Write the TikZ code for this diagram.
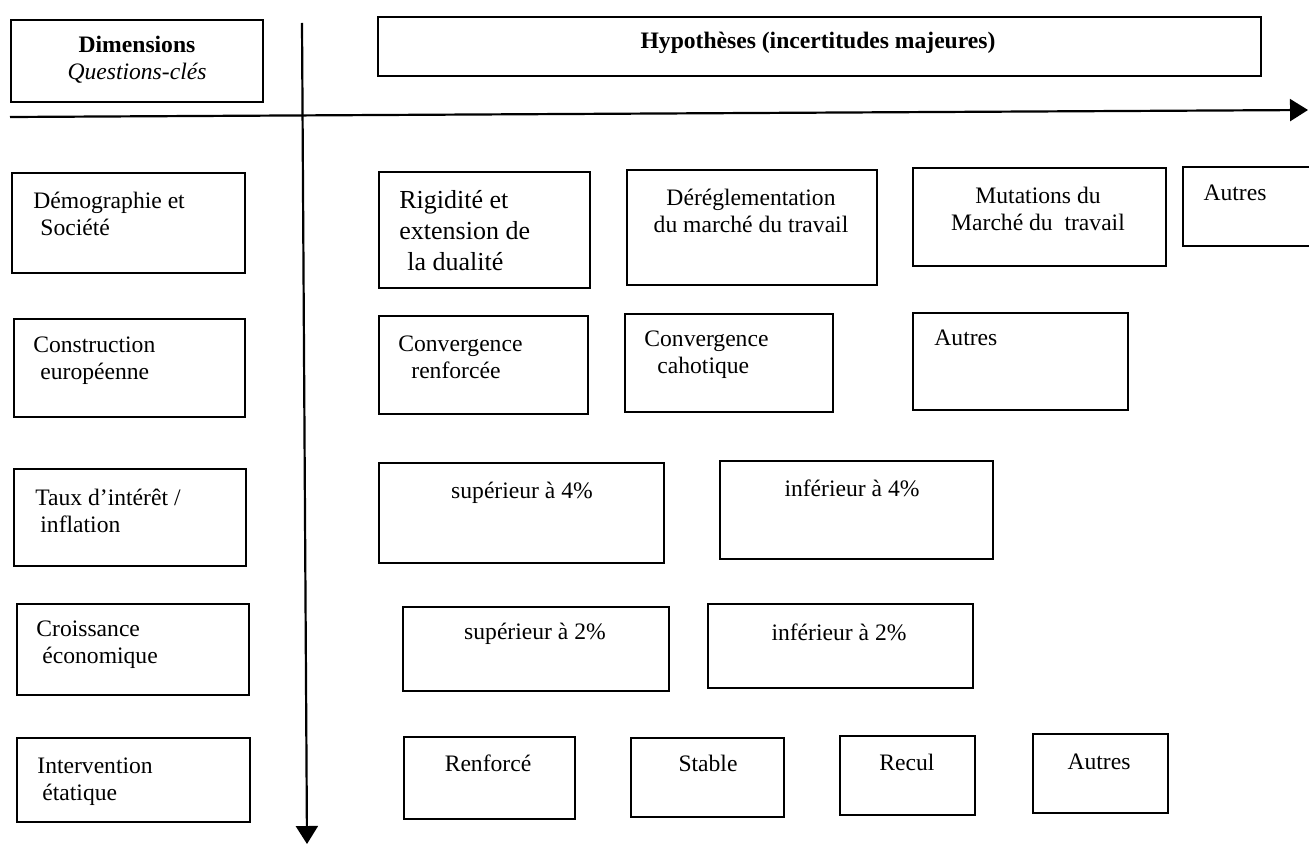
\documentclass[tikz,border=0pt]{standalone}
\usepackage{fontspec}
\setmainfont{Liberation Serif}
\usetikzlibrary{arrows.meta, fit}

\begin{document}
\begin{tikzpicture}[x = 0.5pt, y = -0.5pt,
		cell/.style = {draw, line width = 1.3pt, inner sep = 0pt},
		txt/.style = {font = \fontsize{11.8}{13.5}\selectfont, inner sep = 0pt, align = left},
		axis/.style = {line width = 1.1pt, -{Triangle[length = 9pt, width = 11pt]}}]
		\clip (0,0) rectangle (1309,845);
		
		% axes
		\coordinate (h0) at (10,117);
		\coordinate (h1) at (1308,110);
		\coordinate (v0) at (302,23);
		\coordinate (v1) at (307,844);
		\draw [axis] (h0) -- (h1);
		\draw [axis] (v0) -- (v1);
		
		% header
		\node [cell, fit = {(11,20) (263,102)}] (dim) {};
		\node [txt, align = center] (dim-t) at (137,60) {\textbf{Dimensions}\\\textit{Questions-clés}};
		\node [cell, fit = {(378,17) (1261,76)}] (hyp) {};
		\node [txt] (hyp-t) at (818,43) {\textbf{Hypothèses (incertitudes majeures)}};
		
		% demographie
		\node [cell, fit = {(12,173) (245,273)}] (demo) {};
		\node [txt, anchor = west] (demo-t) at (33,214) {Démographie et\\\hspace*{3.5pt}Société};
		\node [cell, fit = {(379,172) (590,288)}] (rig) {};
		\node [txt, anchor = west, font = \fontsize{13}{15.5}\selectfont] (rig-t) at (399,231) {Rigidité et\\extension de\\\hspace*{4pt}la dualité};
		\node [cell, fit = {(627,170) (877,285)}] (dereg) {};
		\node [txt, align = center] (dereg-t) at (751,211) {Déréglementation\\du marché du travail};
		\node [cell, fit = {(913,168) (1166,266)}] (mut) {};
		\node [txt, align = center] (mut-t) at (1038,209) {Mutations du\\Marché du\ \ travail};
		\node [cell, fit = {(1183,167) (1340,246)}] (aut1) {};
		\node [txt] (aut1-t) at (1235,193) {Autres};
		
		% construction europeenne
		\node [cell, fit = {(14,319) (245,417)}] (constr) {};
		\node [txt, anchor = west] (constr-t) at (33,361) {Construction\\\hspace*{3.5pt}européenne};
		\node [cell, fit = {(379,316) (588,414)}] (convr) {};
		\node [txt, anchor = west] (convr-t) at (398,357) {Convergence\\\hspace*{6.5pt}renforcée};
		\node [cell, fit = {(625,314) (833,412)}] (convc) {};
		\node [txt, anchor = west] (convc-t) at (644,355) {Convergence\\\hspace*{6.5pt}cahotique};
		\node [cell, fit = {(913,313) (1128,410)}] (aut2) {};
		\node [txt, anchor = west] (aut2-t) at (934,338) {Autres};
		
		% taux
		\node [cell, fit = {(14,469) (246,566)}] (taux) {};
		\node [txt, anchor = west] (taux-t) at (35,511) {Taux d’intérêt /\\\hspace*{2.5pt}inflation};
		\node [cell, fit = {(379,463) (664,563)}] (sup4) {};
		\node [txt] (sup4-t) at (522,493) {supérieur à 4\%};
		\node [cell, fit = {(720,461) (993,559)}] (inf4) {};
		\node [txt] (inf4-t) at (852,488) {inférieur à 4\%};
		
		% croissance
		\node [cell, fit = {(17,604) (249,695)}] (croiss) {};
		\node [txt, anchor = west] (croiss-t) at (36,645) {Croissance\\\hspace*{3pt}économique};
		\node [cell, fit = {(403,607) (669,691)}] (sup2) {};
		\node [txt] (sup2-t) at (535,634) {supérieur à 2\%};
		\node [cell, fit = {(708,604) (973,688)}] (inf2) {};
		\node [txt] (inf2-t) at (839,632) {inférieur à 2\%};
		
		% intervention
		\node [cell, fit = {(17,738) (250,822)}] (interv) {};
		\node [txt, anchor = west] (interv-t) at (37,782) {Intervention\\\hspace*{2.5pt}étatique};
		\node [cell, fit = {(404,737) (575,819)}] (renf) {};
		\node [txt] (renf-t) at (488,763) {Renforcé};
		\node [cell, fit = {(631,738) (784,817)}] (stab) {};
		\node [txt] (stab-t) at (708,763) {Stable};
		\node [cell, fit = {(840,736) (975,815)}] (recul) {};
		\node [txt] (recul-t) at (907,762) {Recul};
		\node [cell, fit = {(1033,734) (1168,813)}] (aut3) {};
		\node [txt] (aut3-t) at (1099,762) {Autres};
	\end{tikzpicture}
\end{document}
